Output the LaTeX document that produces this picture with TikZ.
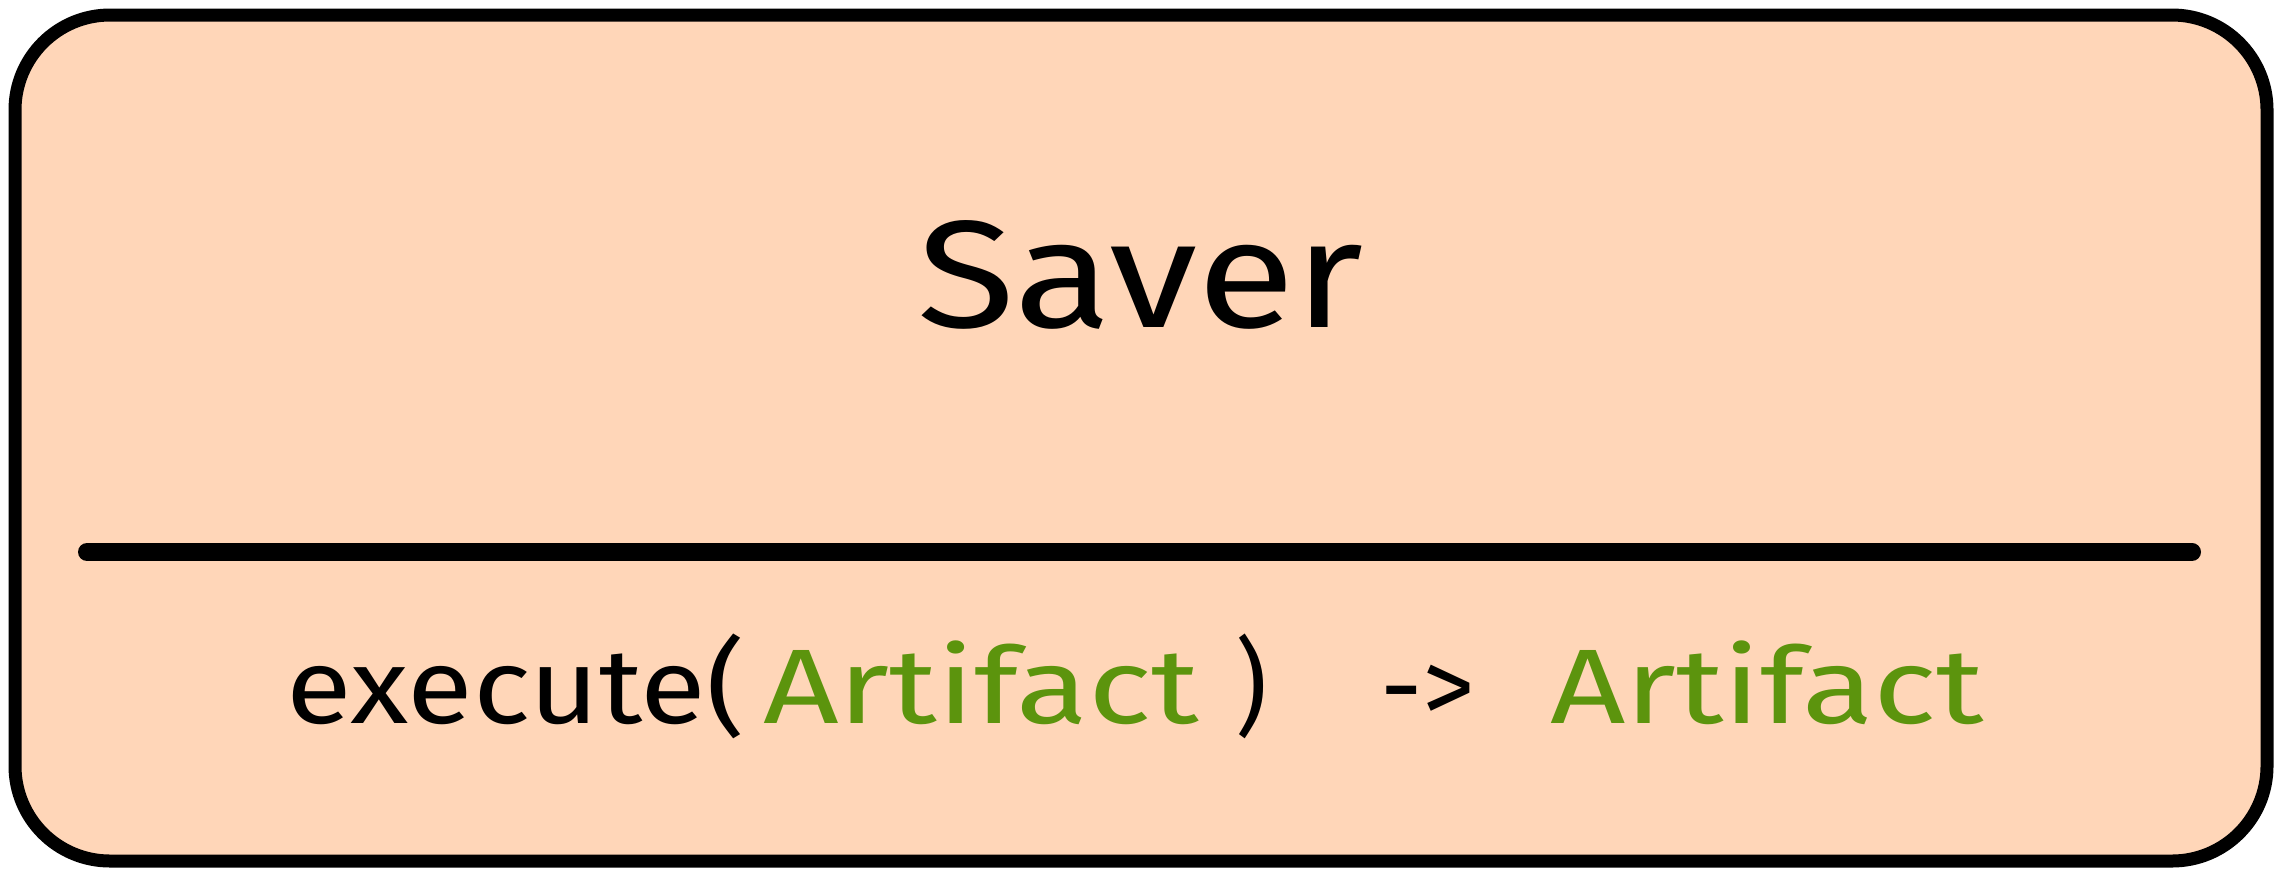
\documentclass[tikz,border=0pt]{standalone}
\usepackage{fontspec}
\usepackage{graphicx}
\setmainfont{Fira Sans}
\definecolor{peach}{HTML}{FFD6B8}
\definecolor{codegreen}{HTML}{5C940D}
\tikzset{
  boxframe/.style={draw=black, line width=6.5pt, rounded corners=47.5pt, fill=peach},
  sepline/.style={draw=black, line width=9pt, line cap=round},
  titletext/.style={anchor=base west, inner sep=0pt, outer sep=0pt, text=black},
  codetext/.style={anchor=base west, inner sep=0pt, outer sep=0pt, text=black, font=\fontsize{53}{60}\selectfont},
  typetext/.style={codetext, text=codegreen}
}
\begin{document}
\begin{tikzpicture}[x=0.5pt, y=-0.5pt]
\useasboundingbox (0,0) rectangle (2278,875);
% outer rounded box
\draw[boxframe] (15,15) rectangle (2267,861);
% separator
\coordinate (sepL) at (87,552);
\coordinate (sepR) at (2192,552);
\draw[sepline] (sepL) -- (sepR);
% title
\node[titletext] (title) at (917,327) {\fontsize{78}{90}\selectfont\resizebox{223.5pt}{53.5pt}{Saver}};
% method signature
\node[codetext] (exec) at (286,723) {\resizebox{229.5pt}{\height}{execute(}};
\node[typetext] (arg) at (763,723) {\resizebox{218pt}{\height}{Artifact}};
\node[codetext] (close) at (1235,723) {\resizebox{16pt}{\height}{)}};
\node[codetext] (arrow) at (1380,723) {\resizebox{47.5pt}{\height}{-{}>}};
\node[typetext] (ret) at (1550,723) {\resizebox{217pt}{\height}{Artifact}};
\end{tikzpicture}
\end{document}
